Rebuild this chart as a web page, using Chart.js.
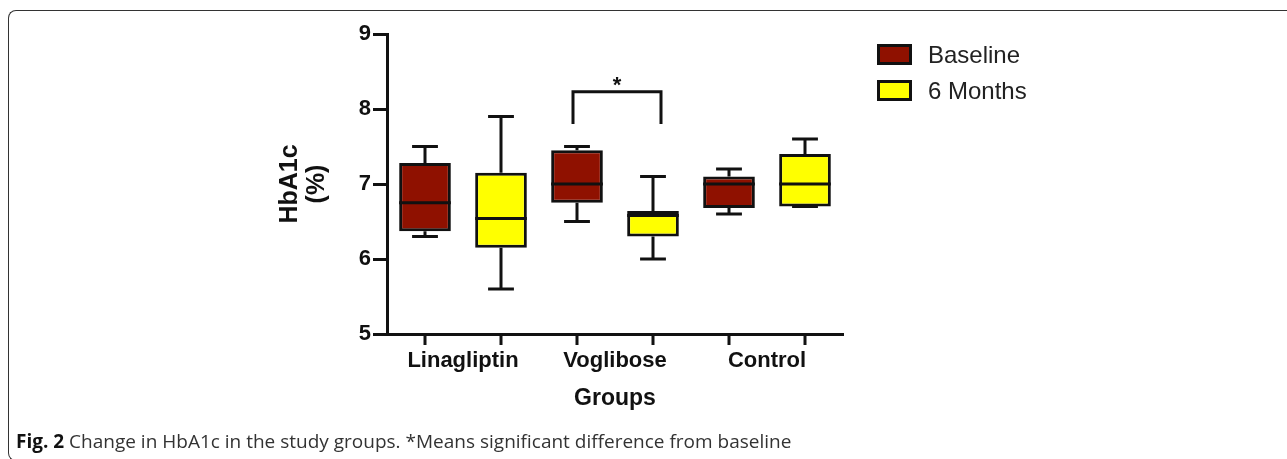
<!DOCTYPE html>
<html>
<head>
<meta charset="utf-8">
<script src="https://cdn.jsdelivr.net/npm/chart.js@4/dist/chart.umd.min.js"></script>
<style>
  html, body { margin: 0; padding: 0; background: #fff; width: 1287px; height: 459px; overflow: hidden; position: relative; }
  #frame { position: absolute; left: 8px; top: 10px; width: 1320px; height: 448.5px; border-left: 1.5px solid #333; border-top: 1.5px solid #333; border-bottom: 1.5px solid #333; border-radius: 8px 0 0 8px; }
  #chart { position: absolute; left: 0; top: 0; }
  #legend { position: absolute; left: 877px; top: 44px; font: 24px 'Liberation Sans', Arial, sans-serif; color: #222; }
  #legend .item { display: flex; align-items: center; height: 21px; margin-bottom: 15px; }
  #legend .swatch { width: 29px; height: 15px; border: 3px solid #111; margin-right: 16px; }
  #caption { position: absolute; left: 16px; top: 428px; font: 19px 'Open Sans', sans-serif; color: #333; white-space: nowrap; }
  #caption b { color: #111; }
</style>
</head>
<body>
<div id="frame"></div>
<canvas id="chart" width="1287" height="459"></canvas>
<div id="legend"></div>
<div id="caption"><b>Fig. 2</b> Change in HbA1c in the study groups. *Means significant difference from baseline</div>
<script>
// groups on the x axis
const categories = ['Linagliptin', 'Voglibose', 'Control'];

// baseline box plot values
const baselineMin = [6.3, 6.5, 6.6];
const baselineQ1 = [6.37, 6.75, 6.68];
const baselineMedian = [6.75, 7.0, 7.0];
const baselineQ3 = [7.28, 7.45, 7.1];
const baselineMax = [7.5, 7.5, 7.2];

// 6 months box plot values
const monthsMin = [5.6, 6.0, 6.7];
const monthsQ1 = [6.15, 6.3, 6.7];
const monthsMedian = [6.54, 6.58, 7.0];
const monthsQ3 = [7.15, 6.64, 7.4];
const monthsMax = [7.9, 7.1, 7.6];

// significance bracket (Voglibose baseline vs 6 months)
const sigGroup = 'Voglibose';
const sigLow = 7.8;
const sigHigh = 8.23;
const sigMark = '*';

const yTicks = [5, 6, 7, 8, 9];

const ink = '#111';
const fontFamily = "'Liberation Sans', Arial, sans-serif";

const boxData = (q1, q3) => categories.map((c, i) => [q1[i], q3[i]]);

// whiskers, medians, x tick marks and the bracket, drawn from the bar elements
const boxPlotParts = {
    id: 'boxPlotParts',
    afterDatasetsDraw(chart) {
        const ctx = chart.ctx;
        const y = chart.scales.y;
        const bottom = chart.chartArea.bottom;
        ctx.save();
        ctx.strokeStyle = ink;
        ctx.lineWidth = 3;

        chart.data.datasets.forEach((ds, di) => {
            const meta = chart.getDatasetMeta(di);
            meta.data.forEach((bar, i) => {
                const x = bar.x;
                const half = bar.width / 2;
                const cap = bar.width / 4;
                const pMin = y.getPixelForValue(ds.whiskerLow[i]);
                const pMax = y.getPixelForValue(ds.whiskerHigh[i]);
                const pQ1 = y.getPixelForValue(ds.data[i][0]);
                const pQ3 = y.getPixelForValue(ds.data[i][1]);
                const pMed = y.getPixelForValue(ds.median[i]);

                ctx.beginPath();
                // upper whisker
                ctx.moveTo(x, pQ3); ctx.lineTo(x, pMax);
                ctx.moveTo(x - cap, pMax); ctx.lineTo(x + cap, pMax);
                // lower whisker
                ctx.moveTo(x, pQ1); ctx.lineTo(x, pMin);
                ctx.moveTo(x - cap, pMin); ctx.lineTo(x + cap, pMin);
                // median
                ctx.moveTo(x - half, pMed); ctx.lineTo(x + half, pMed);
                // tick mark under the axis
                ctx.moveTo(x, bottom); ctx.lineTo(x, bottom + 11);
                ctx.stroke();
            });
        });

        // bracket
        const gi = categories.indexOf(sigGroup);
        const b0 = chart.getDatasetMeta(0).data[gi];
        const b1 = chart.getDatasetMeta(1).data[gi];
        const x0 = b0.x - 4, x1 = b1.x + 8;
        const yl = y.getPixelForValue(sigLow), yh = y.getPixelForValue(sigHigh);
        ctx.beginPath();
        ctx.moveTo(x0, yl); ctx.lineTo(x0, yh); ctx.lineTo(x1, yh); ctx.lineTo(x1, yl);
        ctx.stroke();
        ctx.fillStyle = ink;
        ctx.font = 'bold 22px ' + fontFamily;
        ctx.textAlign = 'center';
        ctx.textBaseline = 'alphabetic';
        ctx.fillText(sigMark, (x0 + x1) / 2, yh);
        ctx.restore();
    }
};

// html legend built from the datasets
const htmlLegend = {
    id: 'htmlLegend',
    afterUpdate(chart) {
        const box = document.getElementById('legend');
        box.innerHTML = '';
        chart.options.plugins.legend.labels.generateLabels(chart).forEach(item => {
            const row = document.createElement('div');
            row.className = 'item';
            const sw = document.createElement('span');
            sw.className = 'swatch';
            sw.style.background = item.fillStyle;
            const txt = document.createElement('span');
            txt.textContent = item.text;
            row.appendChild(sw);
            row.appendChild(txt);
            box.appendChild(row);
        });
    }
};

new Chart(document.getElementById('chart'), {
    type: 'bar',
    data: {
        labels: categories,
        datasets: [
            {
                label: 'Baseline',
                data: boxData(baselineQ1, baselineQ3),
                median: baselineMedian,
                whiskerLow: baselineMin,
                whiskerHigh: baselineMax,
                backgroundColor: '#8f1100',
            },
            {
                label: '6 Months',
                data: boxData(monthsQ1, monthsQ3),
                median: monthsMedian,
                whiskerLow: monthsMin,
                whiskerHigh: monthsMax,
                backgroundColor: '#ffff00',
            },
        ],
    },
    options: {
        responsive: false,
        animation: false,
        datasets: {
            bar: {
                borderColor: ink,
                borderWidth: 3,
                borderSkipped: false,
                categoryPercentage: 1.0,
                barPercentage: 0.68,
            },
        },
        layout: {
            padding: { left: 270, right: 444, top: 34, bottom: 45 },
        },
        plugins: {
            legend: { display: false },
            tooltip: { enabled: false },
        },
        scales: {
            x: {
                grid: { display: false, drawTicks: false },
                border: { display: true, width: 3, color: ink },
                ticks: {
                    color: ink,
                    padding: 14,
                    font: { family: fontFamily, size: 22, weight: 'bold' },
                },
                title: {
                    display: true,
                    text: 'Groups',
                    color: ink,
                    font: { family: fontFamily, size: 23, weight: 'bold' },
                    padding: { top: 0, bottom: 2 },
                },
                afterFit(s) { s.height = 80; },
            },
            y: {
                min: 5,
                max: 9,
                afterBuildTicks(s) { s.ticks = yTicks.map(v => ({ value: v })); },
                grid: { drawOnChartArea: false, drawTicks: true, tickLength: 14, tickWidth: 3, tickColor: ink },
                border: { display: true, width: 3, color: ink },
                ticks: {
                    color: ink,
                    padding: 2,
                    font: { family: fontFamily, size: 22, weight: 'bold' },
                },
                title: {
                    display: true,
                    text: ['HbA1c', '(%)'],
                    color: ink,
                    font: { family: fontFamily, size: 25, weight: 'bold', lineHeight: 1.1 },
                    padding: { top: 6 },
                },
                afterFit(s) { s.width = 117; },
            },
        },
    },
    plugins: [boxPlotParts, htmlLegend],
});
</script>
</body>
</html>
